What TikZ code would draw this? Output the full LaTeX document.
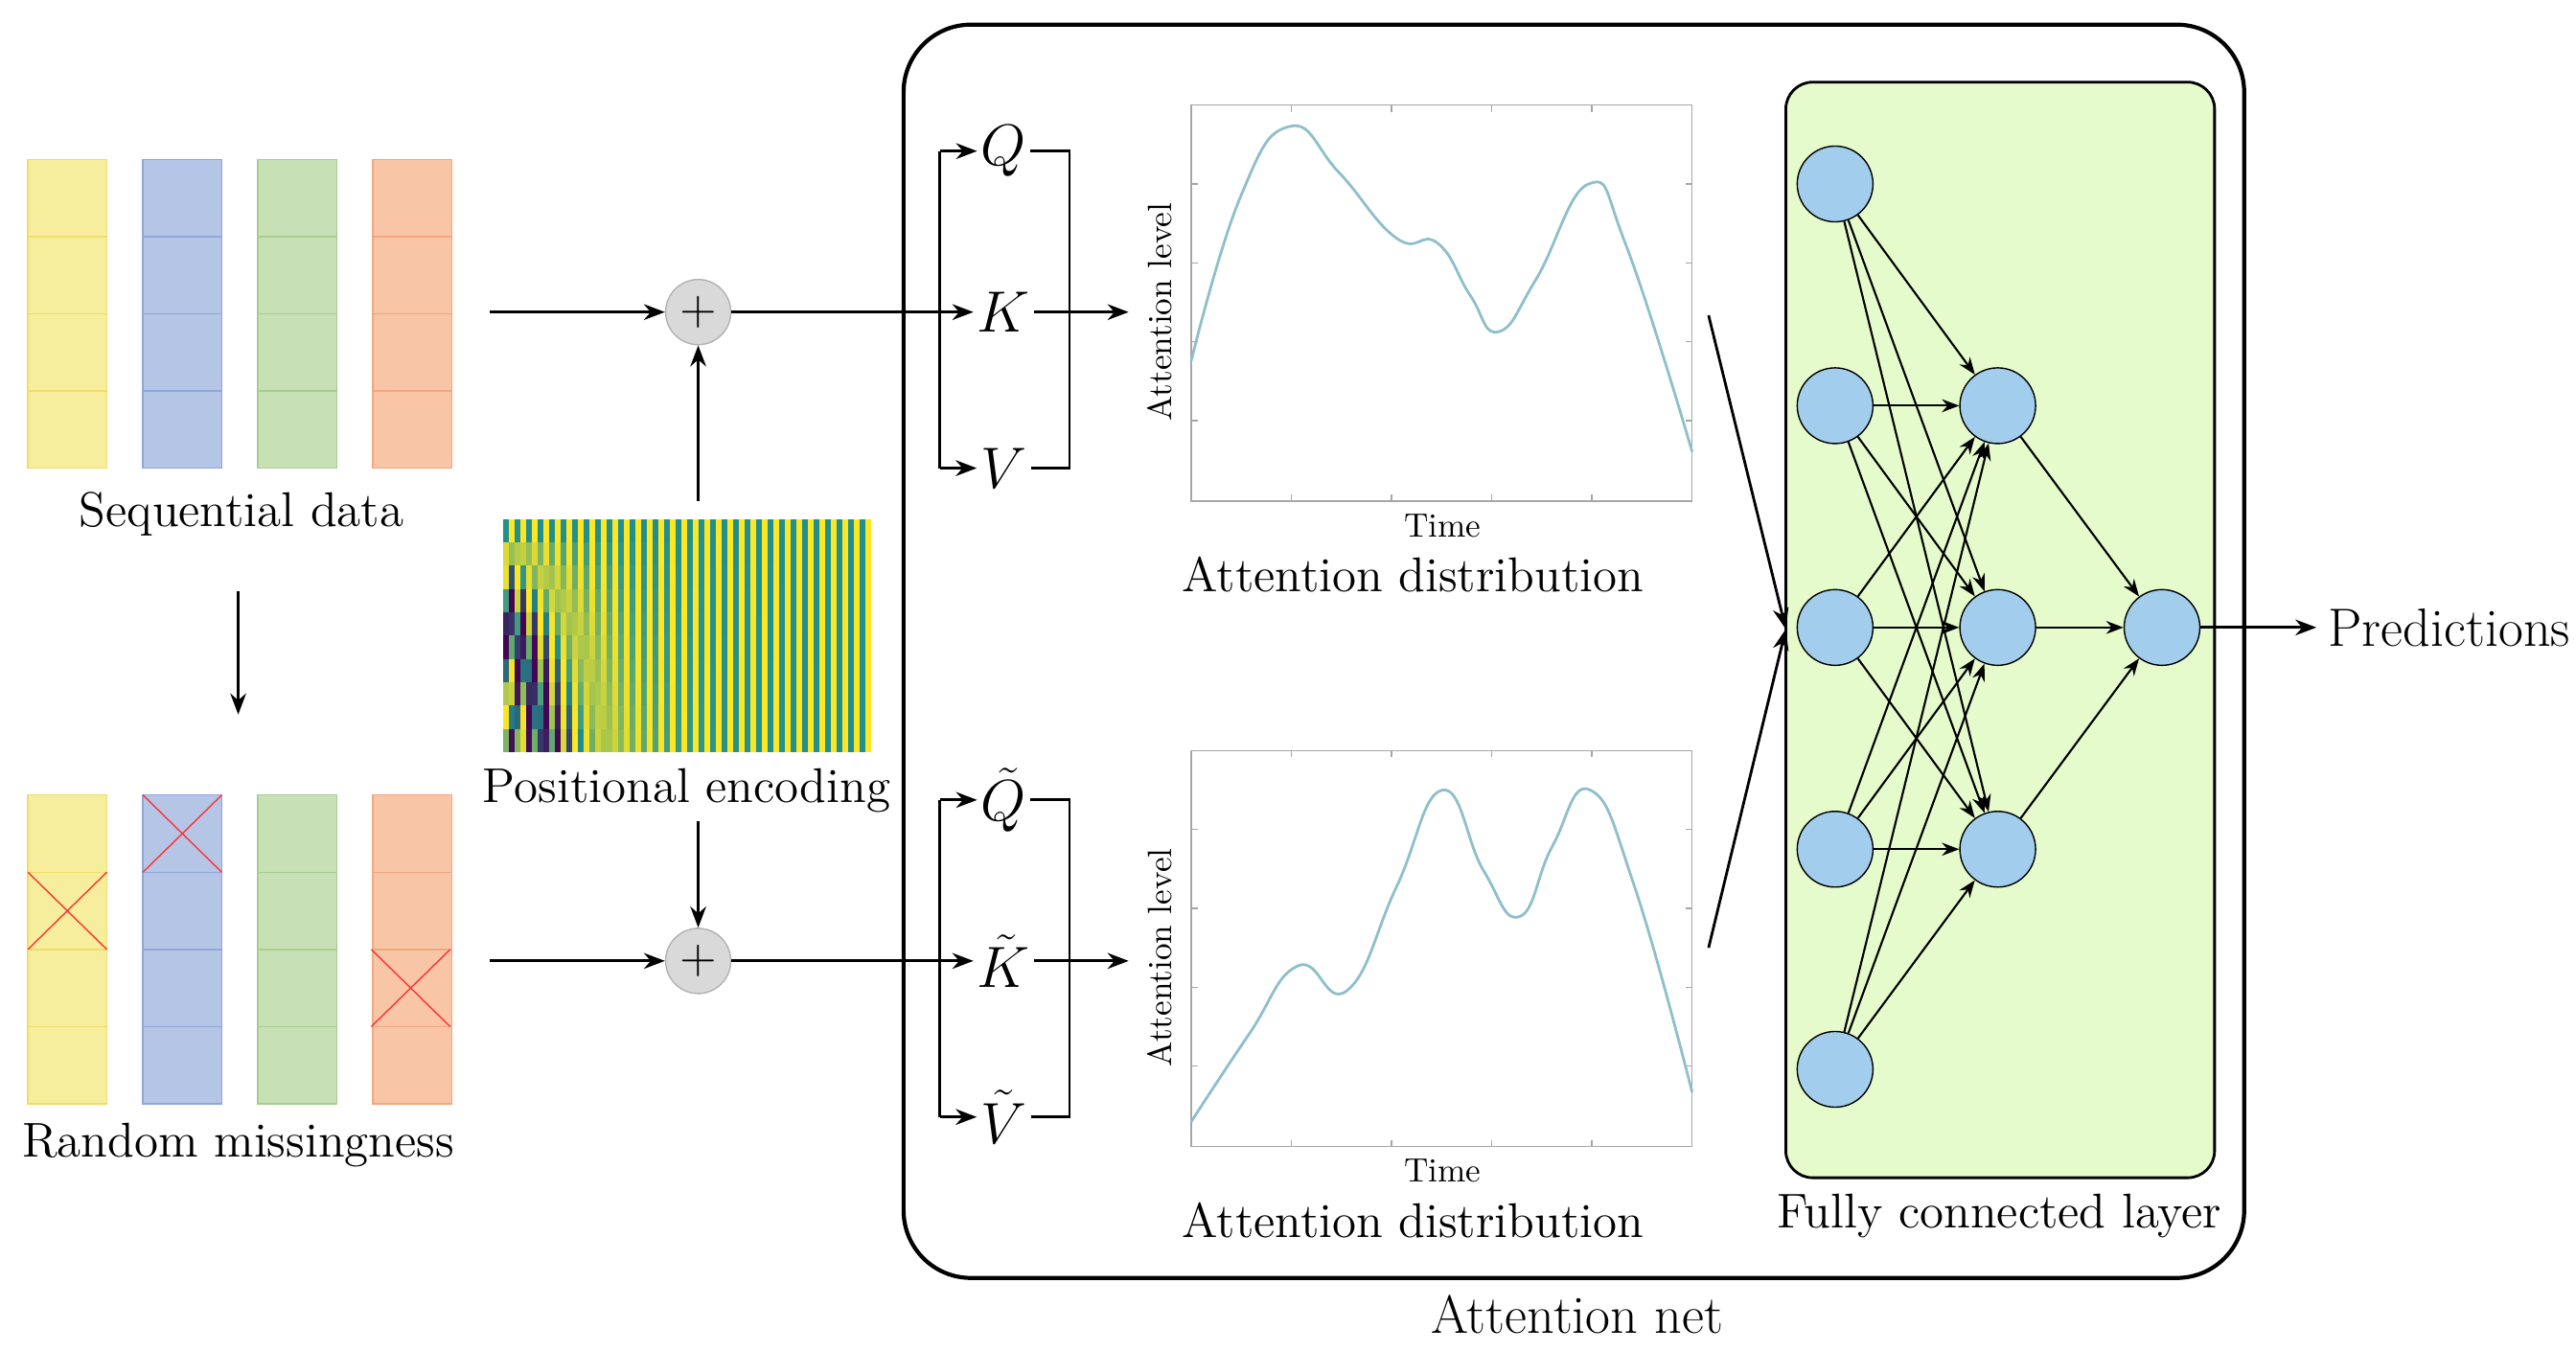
\documentclass[tikz,border=0pt]{standalone}
\usepackage{tikz}
\usetikzlibrary{arrows.meta,positioning,calc}
\definecolor{cy}{HTML}{F6EE9C}\definecolor{cyl}{HTML}{F0DC6A}
\definecolor{cb}{HTML}{B4C5E6}\definecolor{cbl}{HTML}{8FA6DA}
\definecolor{cg}{HTML}{C7E0B5}\definecolor{cgl}{HTML}{A6CF8E}
\definecolor{co}{HTML}{F8C6A6}\definecolor{col}{HTML}{F2A77F}
\definecolor{vpurple}{HTML}{440154}\definecolor{vteal}{HTML}{21908D}\definecolor{vyellow}{HTML}{FDE725}
\definecolor{nnfill}{HTML}{A3CDEC}\definecolor{fcfill}{HTML}{E5FBCB}\definecolor{curve}{HTML}{8FBFC9}
\begin{document}
\begin{tikzpicture}[x=0.01714cm, y=-0.01714cm,
  txt/.style={font=\fontsize{14.5}{17}\selectfont},
  big/.style={font=\fontsize{16}{18}\selectfont},
  small/.style={font=\fontsize{10}{12}\selectfont},
  qkv/.style={font=\fontsize{16}{18}\selectfont, inner sep=1pt},
  plus/.style={circle, draw=gray!60, fill=gray!30, minimum size=0.68cm, inner sep=0pt, font=\Large},
  neuron/.style={circle, draw=black, fill=nnfill, minimum size=0.79cm, inner sep=0pt},
  flow/.style={-{Stealth[length=2.2mm]}, thick},
  link/.style={-{Stealth[length=1.8mm]}, semithick},
  plotbox/.style={draw=gray!70, thin},
]
\useasboundingbox (0,0) rectangle (1568,823);

% ─── Data columns ───
\foreach \i/\c in {0/cy,1/cb,2/cg,3/co}{
  \foreach \y in {97,484}{
    \fill[\c] (17+70*\i,\y) rectangle ++(48,188);
    \draw[\c l, thin] (17+70*\i,\y) rectangle ++(48,188);
    \foreach \k in {1,2,3} \draw[\c l] (17+70*\i,\y+47*\k) -- ++(48,0);
  }
}
% missing entries
\draw[red!80, thin] (17,531) -- ++(48,47) (65,531) -- ++(-48,47);
\draw[red!80, thin] (87,484) -- ++(48,47) (135,484) -- ++(-48,47);
\draw[red!80, thin] (226,578) -- ++(48,47) (274,578) -- ++(-48,47);

\node[txt] (seq) at (147,313) {Sequential data};
\node[txt] (miss) at (145,697) {Random missingness};
\coordinate (seqb) at (145,360);
\coordinate (missa) at (145,435);
\draw[flow] (seqb) -- (missa);

% ─── Positional encoding ───
\foreach \r in {0,...,9}{
  \foreach \c in {0,...,63}{
    \pgfmathsetmacro\fr{\r/(10000^(2*floor(\c/2)/64))}
    \pgfmathsetmacro\v{ifthenelse(mod(\c,2)==0, sin(deg(\fr)), cos(deg(\fr)))}
    \pgfmathsetmacro\t{(\v+1)*50}
    \pgfmathtruncatemacro\lo{\t<50}
    \ifnum\lo=1 \pgfmathsetmacro\m{2*\t}\colorlet{pc}{vteal!\m!vpurple}
    \else \pgfmathsetmacro\m{2*\t-100}\colorlet{pc}{vyellow!\m!vteal}\fi
    \fill[pc] (306+3.5*\c,316+14.2*\r) rectangle ++(3.6,14.4);
  }
}
\node[txt] (pe) at (418,481) {Positional encoding};
\node[plus] (p1) at (425,190) {$+$};
\node[plus] (p2) at (425,585) {$+$};
\coordinate (in1) at (298,190);
\coordinate (in2) at (298,585);
\coordinate (peu) at (425,305);
\coordinate (ped) at (425,500);
\draw[flow] (in1) -- (p1);
\draw[flow] (in2) -- (p2);
\draw[flow] (peu) -- (p1);
\draw[flow] (ped) -- (p2);

% ─── Attention net ───
\draw[very thick, rounded corners=20] (550,15) rectangle (1366,778);
\node[big] (anet) at (960,800) {Attention net};

\foreach \n/\yy/\lq/\lk/\lv in {a/190/Q/K/V, b/585/\tilde{Q}/\tilde{K}/\tilde{V}}{
  \node[qkv] (Q\n) at (611,\yy-98) {$\lq$};
  \node[qkv] (K\n) at (611,\yy) {$\lk$};
  \node[qkv] (V\n) at (611,\yy+95) {$\lv$};
  \draw[thick] (572,\yy-98) -- (572,\yy+95);
  \draw[flow] (572,\yy-98) -- (Q\n.west|-{572,\yy-98});
  \draw[flow] (572,\yy+95) -- (V\n.west|-{572,\yy+95});
  \draw[thick] (Q\n.east|-{572,\yy-98}) -- (651,\yy-98) -- (651,\yy+95) -- (V\n.east|-{572,\yy+95});
  \coordinate (att\n) at (687,\yy);
  \draw[flow] (K\n) -- (att\n);
}
\draw[flow] (p1) -- (Ka);
\draw[flow] (p2) -- (Kb);

% plots
\foreach \n/\yt in {a/64,b/457}{
  \draw[plotbox] (725,\yt) rectangle (1030,\yt+241);
  \foreach \k in {1,...,4}{
    \draw[gray!70, thin] (725+61*\k,\yt+241) -- ++(0,-4);
    \draw[gray!70, thin] (725+61*\k,\yt) -- ++(0,4);
    \draw[gray!70, thin] (725,\yt+48*\k) -- ++(4,0);
    \draw[gray!70, thin] (1030,\yt+48*\k) -- ++(-4,0);
  }
  \node[small, rotate=90] (al\n) at (706,\yt+126) {Attention level};
  \node[small] (tm\n) at (878,\yt+256) {Time};
  \node[txt] (ad\n) at (860,\yt+286) {Attention distribution};
}
\draw[curve, thick] plot[smooth, tension=0.8] coordinates {(725,220) (755,120) (785,77) (815,105) (850,145) (875,148) (895,180) (912,202) (935,170) (967,112) (990,150) (1030,275)};
\draw[curve, thick] plot[smooth, tension=0.8] coordinates {(725,683) (760,630) (790,588) (820,603) (850,540) (878,481) (903,530) (925,558) (945,515) (968,481) (995,540) (1030,665)};

% ─── Fully connected layer ───
\draw[fill=fcfill, thick, rounded corners=8] (1087,50) rectangle (1348,717);
\node[txt] (fcl) at (1217,740) {Fully connected layer};
\foreach \i/\yy in {1/112,2/247,3/382,4/517,5/651} \node[neuron] (h\i) at (1117,\yy) {};
\foreach \j/\yy in {1/247,2/382,3/517} \node[neuron] (g\j) at (1216,\yy) {};
\node[neuron] (out) at (1316,382) {};
\foreach \i in {1,...,5}{\foreach \j in {1,2,3} \draw[link] (h\i) -- (g\j);}
\foreach \j in {1,2,3} \draw[link] (g\j) -- (out);

\coordinate (da) at (1040,192);
\coordinate (db) at (1040,577);
\coordinate (fin) at (1087,383);
\draw[flow] (da) -- (fin);
\draw[flow] (db) -- (fin);

\node[big, anchor=west] (pred) at (1410,382) {Predictions};
\draw[flow] (out) -- (pred);
\end{tikzpicture}
\end{document}
